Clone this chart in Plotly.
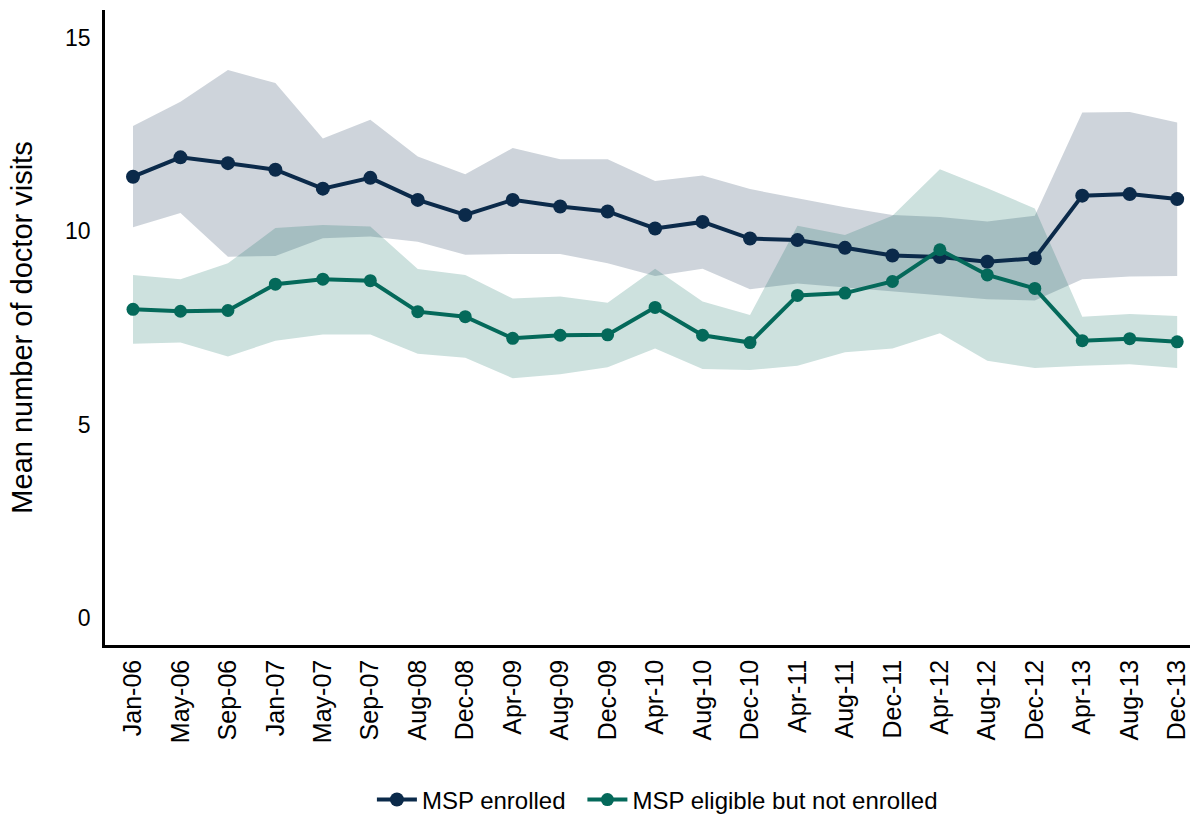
import plotly.graph_objects as go

months = ["Jan-06", "May-06", "Sep-06", "Jan-07", "May-07", "Sep-07", "Aug-08", "Dec-08",
          "Apr-09", "Aug-09", "Dec-09", "Apr-10", "Aug-10", "Dec-10", "Apr-11", "Aug-11",
          "Dec-11", "Apr-12", "Aug-12", "Dec-12", "Apr-13", "Aug-13", "Dec-13"]

enrolled = [11.41, 11.91, 11.76, 11.59, 11.10, 11.38, 10.81, 10.42, 10.81, 10.64, 10.51, 10.07,
            10.24, 9.81, 9.77, 9.57, 9.37, 9.33, 9.21, 9.30, 10.92, 10.96, 10.83]
enrolled_hi = [12.72, 13.35, 14.17, 13.83, 12.40, 12.88, 11.93, 11.47, 12.15, 11.86, 11.86, 11.30,
               11.44, 11.09, 10.85, 10.62, 10.42, 10.37, 10.25, 10.40, 13.07, 13.08, 12.81]
enrolled_lo = [10.10, 10.47, 9.34, 9.36, 9.82, 9.86, 9.73, 9.39, 9.41, 9.41, 9.17, 8.84,
               9.03, 8.50, 8.65, 8.55, 8.44, 8.35, 8.24, 8.21, 8.76, 8.83, 8.84]

eligible = [7.98, 7.93, 7.95, 8.63, 8.76, 8.72, 7.92, 7.79, 7.23, 7.31, 7.32, 8.03,
            7.31, 7.12, 8.34, 8.40, 8.70, 9.52, 8.87, 8.52, 7.17, 7.22, 7.14]
eligible_hi = [8.87, 8.76, 9.17, 10.08, 10.16, 10.12, 9.02, 8.87, 8.26, 8.31, 8.15, 9.03,
               8.18, 7.83, 10.14, 9.90, 10.40, 11.60, 11.11, 10.59, 7.79, 7.86, 7.81]
eligible_lo = [7.09, 7.12, 6.76, 7.17, 7.33, 7.33, 6.83, 6.73, 6.20, 6.30, 6.48, 6.97,
               6.44, 6.41, 6.52, 6.87, 6.97, 7.36, 6.65, 6.46, 6.52, 6.56, 6.46]

navy = "#0b2a4a"
green = "#04695a"

fig = go.Figure()

# confidence bands
for lo, hi, fill in [(enrolled_lo, enrolled_hi, "rgba(11,41,74,0.2)"),
                     (eligible_lo, eligible_hi, "rgba(4,105,90,0.2)")]:
    fig.add_trace(go.Scatter(x=months, y=lo, mode="lines", line=dict(width=0),
                             showlegend=False, hoverinfo="skip"))
    fig.add_trace(go.Scatter(x=months, y=hi, mode="lines", line=dict(width=0),
                             fill="tonexty", fillcolor=fill, showlegend=False, hoverinfo="skip"))

fig.add_trace(go.Scatter(x=months, y=enrolled, mode="lines+markers", name="MSP enrolled",
                         line=dict(color=navy, width=4), marker=dict(color=navy, size=14),
                         legend="legend"))
fig.add_trace(go.Scatter(x=months, y=eligible, mode="lines+markers", name="MSP eligible but not enrolled",
                         line=dict(color=green, width=4), marker=dict(color=green, size=13),
                         legend="legend2"))

fig.update_layout(
    width=1190,
    height=815,
    autosize=False,
    plot_bgcolor="white",
    paper_bgcolor="white",
    font=dict(family="Liberation Sans, Arial, sans-serif", color="black"),
    margin=dict(l=105, r=0, t=10, b=170, autoexpand=False),
    showlegend=True,
    legend=dict(orientation="h", x=0.246, xanchor="left", y=-0.244, yanchor="middle",
                font=dict(size=24), itemwidth=40),
    legend2=dict(orientation="h", x=0.44, xanchor="left", y=-0.244, yanchor="middle",
                 font=dict(size=24), itemwidth=40),
    xaxis=dict(
        type="category",
        range=[-0.59, 22.27],
        showgrid=False,
        zeroline=False,
        showline=True,
        linecolor="black",
        linewidth=2.5,
        tickangle=-90,
        tickfont=dict(size=25),
        ticks="",
        ticklabelstandoff=2,
    ),
    yaxis=dict(
        range=[-0.70, 15.72],
        tickvals=[0, 5, 10, 15],
        showgrid=False,
        zeroline=False,
        showline=True,
        linecolor="black",
        linewidth=2.5,
        tickfont=dict(size=23),
        ticks="",
        ticklabelstandoff=7,
        title=dict(text="Mean number of doctor visits", font=dict(size=29), standoff=24),
    ),
)

# drop the default 8px body margin so the figure fills the window exactly
fig.write_html("out.html", config={"displayModeBar": False},
               post_script="document.body.style.margin='0';")
